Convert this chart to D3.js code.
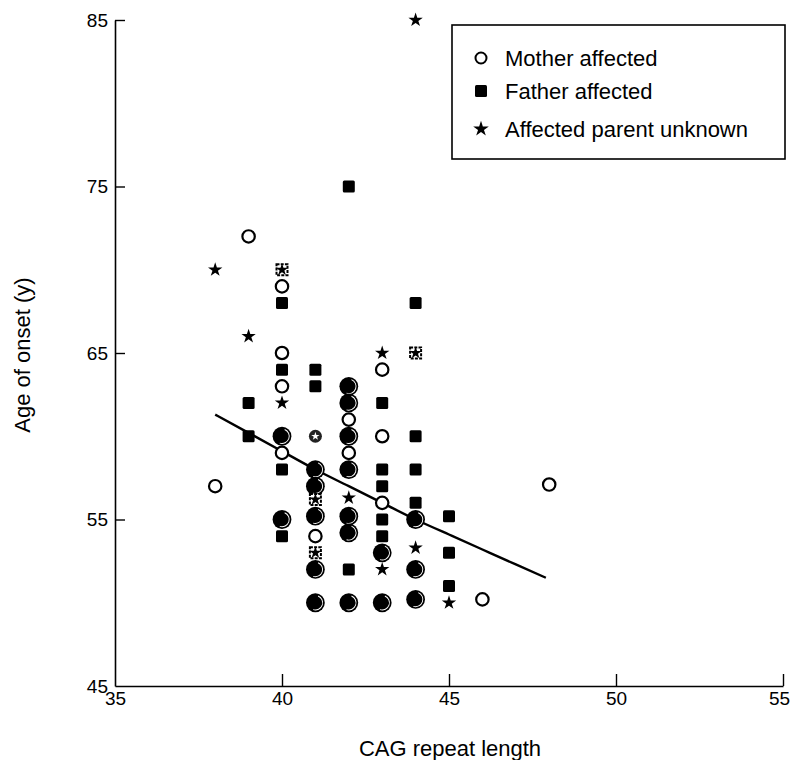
<!DOCTYPE html>
<html>
<head>
<meta charset="utf-8">
<script src="https://cdn.jsdelivr.net/npm/d3@7"></script>
<style>
  html, body { margin: 0; padding: 0; background: #fff; }
  svg { display: block; font-family: "Liberation Sans", Arial, Helvetica, sans-serif; }
</style>
</head>
<body>
<svg id="chart" width="792" height="760"></svg>
<script>
// ---- data (CAG repeat length, age of onset) ----
const xTicks = [35, 40, 45, 50, 55];
const yTicks = [45, 55, 65, 75, 85];

const motherAffected = [
  [38, 57], [39, 72], [40, 69], [40, 65], [40, 63], [40, 59], [41, 54],
  [42, 61], [42, 59], [43, 64], [43, 60], [43, 56], [46, 50.2], [48, 57.1]
];
const fatherAffected = [
  [39, 62], [39, 60], [40, 68], [40, 64], [40, 58], [40, 54], [41, 64], [41, 63],
  [42, 75], [42, 52], [43, 62], [43, 58], [43, 57], [43, 55], [43, 54],
  [44, 68], [44, 60], [44, 58], [44, 56], [45, 55.2], [45, 53], [45, 51]
];
const parentUnknown = [
  [38, 70], [39, 66], [40, 62], [42, 56.3], [43, 65], [43, 52], [44, 85], [44, 53.3], [45, 50]
];
// coincident cases drawn as overlapping symbols
const multipleCases = [
  [40, 60], [40, 55], [41, 58], [41, 57], [41, 55.2], [41, 52], [41, 50],
  [42, 63], [42, 62], [42, 60], [42, 58], [42, 55.2], [42, 54.2], [42, 50],
  [43, 53], [43, 50], [44, 55], [44, 52], [44, 50.2]
];
const mixedCircleStar = [[41, 60]];
const mixedSquareStar = [[40, 70], [41, 56.2], [41, 53], [44, 65]];
// fitted regression curve
const fitCurve = [
  [38, 61.3], [39, 60.2], [40, 59.1], [41, 58.0], [42, 57.0], [43, 56.0],
  [44, 55.0], [45, 54.1], [46, 53.2], [47, 52.3], [47.9, 51.5]
];
const legendItems = ["Mother affected", "Father affected", "Affected parent unknown"];
const xLabel = "CAG repeat length";
const yLabel = "Age of onset (y)";

// ---- layout ----
const svg = d3.select("#chart");
const mLeft = 115, mTop = 20, mRight = 783, mBottom = 686;
const x = d3.scaleLinear().domain([35, 55]).range([mLeft, mRight]);
const y = d3.scaleLinear().domain([45, 85]).range([mBottom, mTop]);

// axes
const xAxis = d3.axisBottom(x).tickValues(xTicks).tickSizeInner(-12).tickSizeOuter(0).tickPadding(6);
const yAxis = d3.axisLeft(y).tickValues(yTicks).tickSizeInner(-10).tickSizeOuter(0).tickPadding(7);

const gx = svg.append("g").attr("transform", `translate(0,${mBottom})`).call(xAxis);
const gy = svg.append("g").attr("transform", `translate(${mLeft},0)`).call(yAxis);
[gx, gy].forEach(g => {
  g.selectAll("path.domain").attr("stroke", "#000").attr("stroke-width", 1.6);
  g.selectAll(".tick line").attr("stroke", "#000").attr("stroke-width", 1.4);
  g.selectAll(".tick text").attr("fill", "#000").style("font-size", "19px")
    .style("font-family", "'Liberation Sans', Arial, sans-serif");
});
gx.selectAll(".tick").filter(d => d === 35).select("line").remove();
gy.selectAll(".tick").filter(d => d === 45).select("line").remove();
gx.selectAll(".tick").filter(d => d === 55).select("text").attr("dx", -4);

svg.append("text")
  .attr("x", (mLeft + mRight) / 2 + 1).attr("y", 756)
  .attr("text-anchor", "middle").style("font-size", "22px").text(xLabel);
svg.append("text")
  .attr("transform", `translate(30,355) rotate(-90)`)
  .attr("text-anchor", "middle").style("font-size", "22px").text(yLabel);

// fitted curve
svg.append("path")
  .datum(fitCurve)
  .attr("fill", "none").attr("stroke", "#000").attr("stroke-width", 2.4)
  .attr("d", d3.line().x(d => x(d[0])).y(d => y(d[1])).curve(d3.curveNatural));

const star = d3.symbol().type(d3.symbolStar);
const plot = svg.append("g");

// multiple coincident cases: filled disc with a white crescent
const arc = d3.arc().innerRadius(6.8).outerRadius(7.7).startAngle(Math.PI * 0.12).endAngle(Math.PI * 1.1);
const mc = plot.selectAll("g.multi").data(multipleCases).join("g")
  .attr("class", "multi")
  .attr("transform", d => `translate(${x(d[0])},${y(d[1])})`);
mc.append("circle").attr("r", 9.4).attr("fill", "#000");
mc.append("path").attr("d", arc()).attr("fill", "#fff");

// mixed overlapping symbols
const ms = plot.selectAll("g.msq").data(mixedSquareStar).join("g")
  .attr("class", "msq")
  .attr("transform", d => `translate(${x(d[0])},${y(d[1])})`);
ms.append("rect").attr("x", -5.5).attr("y", -5.5).attr("width", 11).attr("height", 11)
  .attr("fill", "#fff").attr("stroke", "#000").attr("stroke-width", 2).attr("stroke-dasharray", "3,1.2");
ms.append("path").attr("d", star.size(48)()).attr("fill", "#000");

const mcs = plot.selectAll("g.mcs").data(mixedCircleStar).join("g")
  .attr("class", "mcs")
  .attr("transform", d => `translate(${x(d[0])},${y(d[1])})`);
mcs.append("circle").attr("r", 6.5).attr("fill", "#222");
mcs.append("path").attr("d", star.size(22)()).attr("fill", "#fff");

// mother affected: open circles
plot.selectAll("circle.mother").data(motherAffected).join("circle")
  .attr("class", "mother")
  .attr("cx", d => x(d[0])).attr("cy", d => y(d[1])).attr("r", 6.2)
  .attr("fill", "#fff").attr("stroke", "#000").attr("stroke-width", 2.2);

// father affected: filled squares
plot.selectAll("rect.father").data(fatherAffected).join("rect")
  .attr("class", "father")
  .attr("x", d => x(d[0]) - 6).attr("y", d => y(d[1]) - 6)
  .attr("width", 12).attr("height", 12).attr("rx", 1.5).attr("fill", "#000");

// affected parent unknown: stars
plot.selectAll("path.unknown").data(parentUnknown).join("path")
  .attr("class", "unknown")
  .attr("transform", d => `translate(${x(d[0])},${y(d[1])})`)
  .attr("d", star.size(64)()).attr("fill", "#000");

// legend
const lg = svg.append("g");
lg.append("rect").attr("x", 452).attr("y", 25).attr("width", 333).attr("height", 134)
  .attr("fill", "#fff").attr("stroke", "#000").attr("stroke-width", 1.6);
const rowsY = [58, 91, 129];
lg.append("circle").attr("cx", 481).attr("cy", rowsY[0]).attr("r", 5.5)
  .attr("fill", "#fff").attr("stroke", "#000").attr("stroke-width", 2);
lg.append("rect").attr("x", 475).attr("y", rowsY[1] - 6).attr("width", 12).attr("height", 12)
  .attr("rx", 1.5).attr("fill", "#000");
lg.append("path").attr("transform", `translate(481,${rowsY[2]})`).attr("d", star.size(75)()).attr("fill", "#000");
lg.selectAll("text").data(legendItems).join("text")
  .attr("x", 505).attr("y", (d, i) => rowsY[i] + 8)
  .style("font-size", "22px").attr("fill", "#000").text(d => d);
</script>
</body>
</html>
